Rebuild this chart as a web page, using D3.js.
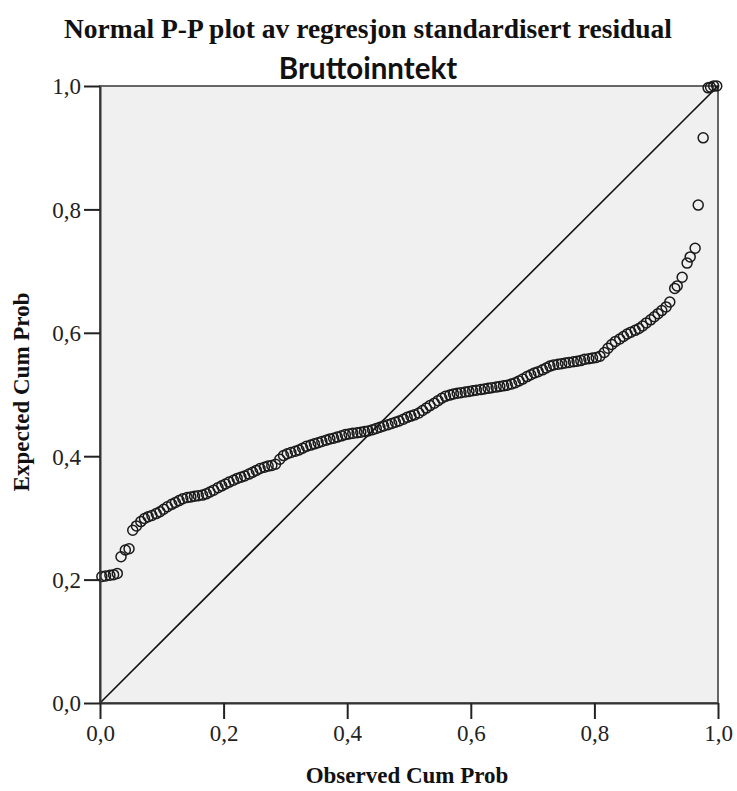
<!DOCTYPE html>
<html>
<head>
<meta charset="utf-8">
<script src="https://cdn.jsdelivr.net/npm/d3@7"></script>
<style>
  body { margin: 0; background: #fff; }
  svg { display: block; }
</style>
</head>
<body>
<svg id="chart" width="737" height="791"></svg>
<script>
// Observed cumulative probability (x) and expected cumulative probability (y)
var observed = [
  0.003, 0.009, 0.016, 0.022, 0.028, 0.034, 0.041, 0.047,
  0.053, 0.059, 0.066, 0.072, 0.078, 0.084, 0.091, 0.097, 0.103, 0.109,
  0.116, 0.122, 0.128, 0.134, 0.141, 0.147, 0.153, 0.159, 0.166, 0.172,
  0.178, 0.184, 0.191, 0.197, 0.203, 0.209, 0.216, 0.222, 0.228, 0.234,
  0.241, 0.247, 0.253, 0.259, 0.266, 0.272, 0.278, 0.284, 0.291, 0.297,
  0.303, 0.309, 0.316, 0.322, 0.328, 0.334, 0.341, 0.347, 0.353, 0.359,
  0.366, 0.372, 0.378, 0.384, 0.391, 0.397, 0.403, 0.409, 0.416, 0.422,
  0.428, 0.434, 0.441, 0.447, 0.453, 0.459, 0.466, 0.472, 0.478, 0.484,
  0.491, 0.497, 0.503, 0.509, 0.516, 0.522, 0.528, 0.534, 0.541, 0.547,
  0.553, 0.559, 0.566, 0.572, 0.578, 0.584, 0.591, 0.597, 0.603, 0.609,
  0.616, 0.622, 0.628, 0.634, 0.641, 0.647, 0.653, 0.659, 0.666, 0.672,
  0.678, 0.684, 0.691, 0.697, 0.703, 0.709, 0.716, 0.722, 0.728, 0.734,
  0.741, 0.747, 0.753, 0.759, 0.766, 0.772, 0.778, 0.784, 0.791, 0.797,
  0.803, 0.809, 0.816, 0.822, 0.828, 0.834, 0.841, 0.847, 0.853, 0.859,
  0.866, 0.872, 0.878, 0.884, 0.891, 0.897, 0.903, 0.909, 0.916, 0.922,
  0.930, 0.934, 0.942, 0.950, 0.955, 0.963, 0.968, 0.976,
  0.984, 0.988, 0.993, 0.998
];
var expected = [
  0.205, 0.206, 0.207, 0.208, 0.210, 0.237, 0.248, 0.250,
  0.280, 0.287, 0.294, 0.299, 0.302, 0.304, 0.307, 0.310, 0.314, 0.318,
  0.322, 0.325, 0.328, 0.331, 0.333, 0.334, 0.335, 0.336, 0.337, 0.339,
  0.342, 0.345, 0.349, 0.352, 0.355, 0.358, 0.361, 0.364, 0.366, 0.368,
  0.371, 0.374, 0.377, 0.380, 0.382, 0.384, 0.385, 0.387, 0.395, 0.401,
  0.404, 0.406, 0.408, 0.410, 0.413, 0.416, 0.418, 0.420, 0.422, 0.424,
  0.426, 0.428, 0.429, 0.431, 0.433, 0.435, 0.436, 0.437, 0.438, 0.439,
  0.440, 0.441, 0.443, 0.445, 0.447, 0.449, 0.451, 0.453, 0.455, 0.457,
  0.460, 0.463, 0.465, 0.467, 0.470, 0.474, 0.478, 0.482, 0.486, 0.490,
  0.494, 0.497, 0.499, 0.501, 0.502, 0.503, 0.504, 0.505, 0.506, 0.507,
  0.508, 0.509, 0.510, 0.511, 0.512, 0.513, 0.514, 0.515, 0.517, 0.519,
  0.522, 0.525, 0.529, 0.532, 0.535, 0.537, 0.540, 0.543, 0.546, 0.548,
  0.549, 0.550, 0.551, 0.552, 0.553, 0.554, 0.555, 0.557, 0.558, 0.559,
  0.560, 0.562, 0.568, 0.575, 0.581, 0.586, 0.590, 0.594, 0.598, 0.601,
  0.604, 0.607, 0.611, 0.616, 0.621, 0.626, 0.631, 0.636, 0.642, 0.650,
  0.672, 0.676, 0.690, 0.713, 0.723, 0.737, 0.807, 0.916,
  0.997, 0.998, 1.000, 1.000
];
var tickValues = [0, 0.2, 0.4, 0.6, 0.8, 1.0];
var tickLabels = ['0,0', '0,2', '0,4', '0,6', '0,8', '1,0'];

(function () {
  'use strict';

  var svg = d3.select('#chart');
  var pLeft = 100, pRight = 718, pTop = 86, pBottom = 703;

  var x = d3.scaleLinear().domain([0, 1]).range([pLeft, pRight]);
  var y = d3.scaleLinear().domain([0, 1]).range([pBottom, pTop]);

  // titles
  svg.append('text')
    .attr('x', 368).attr('y', 38)
    .attr('text-anchor', 'middle')
    .attr('font-family', '"Liberation Serif", serif')
    .attr('font-weight', 'bold')
    .attr('font-size', '27.5px')
    .attr('fill', '#111')
    .text('Normal P-P plot av regresjon standardisert residual');

  svg.append('text')
    .attr('x', 368).attr('y', 79)
    .attr('text-anchor', 'middle')
    .attr('font-family', 'Lato, sans-serif')
    .attr('font-weight', 'bold')
    .attr('font-size', '29.5px')
    .attr('fill', '#111')
    .text('Bruttoinntekt');

  // plot background
  svg.append('rect')
    .attr('x', pLeft).attr('y', pTop)
    .attr('width', pRight - pLeft).attr('height', pBottom - pTop)
    .attr('fill', '#f0f0f0')
    .attr('stroke', '#666')
    .attr('stroke-width', 2);

  // diagonal reference line
  svg.append('line')
    .attr('x1', x(0)).attr('y1', y(0))
    .attr('x2', x(1)).attr('y2', y(1))
    .attr('stroke', '#111')
    .attr('stroke-width', 1.6);

  // points
  var pts = observed.map(function (d, i) { return { ox: d, ey: expected[i] }; });
  svg.append('g')
    .selectAll('circle')
    .data(pts)
    .enter()
    .append('circle')
    .attr('cx', function (d) { return x(d.ox); })
    .attr('cy', function (d) { return y(d.ey); })
    .attr('r', 5)
    .attr('fill', 'none')
    .attr('stroke', '#1a1a1a')
    .attr('stroke-width', 1.5);

  // axes
  var fmt = function (d) { return tickLabels[tickValues.indexOf(d)]; };

  var xAxis = svg.append('g')
    .attr('transform', 'translate(0,' + pBottom + ')')
    .call(d3.axisBottom(x).tickValues(tickValues).tickFormat(fmt).tickSize(16).tickSizeOuter(0).tickPadding(6));

  var yAxis = svg.append('g')
    .attr('transform', 'translate(' + pLeft + ',0)')
    .call(d3.axisLeft(y).tickValues(tickValues).tickFormat(fmt).tickSize(16).tickSizeOuter(0).tickPadding(3));

  [xAxis, yAxis].forEach(function (a) {
    a.select('.domain').attr('stroke', '#333').attr('stroke-width', 2);
    a.selectAll('.tick line').attr('stroke', '#222').attr('stroke-width', 2);
    a.selectAll('.tick text')
      .attr('font-family', '"Liberation Serif", serif')
      .attr('font-size', '23px')
      .attr('fill', '#222');
  });
  yAxis.selectAll('.tick text').attr('dy', '0.34em');

  // axis titles
  svg.append('text')
    .attr('x', 407).attr('y', 783)
    .attr('text-anchor', 'middle')
    .attr('font-family', '"Liberation Serif", serif')
    .attr('font-weight', 'bold')
    .attr('font-size', '23px')
    .attr('fill', '#111')
    .text('Observed Cum Prob');

  svg.append('text')
    .attr('transform', 'translate(29,392) rotate(-90)')
    .attr('text-anchor', 'middle')
    .attr('font-family', '"Liberation Serif", serif')
    .attr('font-weight', 'bold')
    .attr('font-size', '23px')
    .attr('fill', '#111')
    .text('Expected Cum Prob');
})();
</script>
</body>
</html>
